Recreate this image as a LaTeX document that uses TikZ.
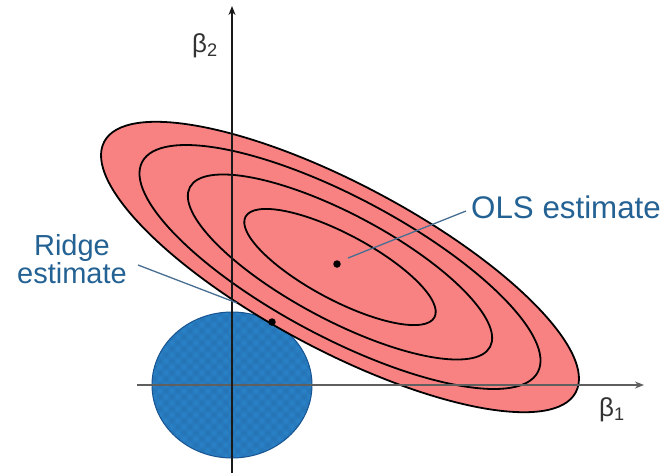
\documentclass[tikz,border=0pt]{standalone}
\usepackage{fontspec}
\setmainfont{Liberation Sans}
\usetikzlibrary{arrows.meta}
\definecolor{pinkfill}{RGB}{248,130,130}
\definecolor{ridgeblue}{RGB}{42,128,196}
\definecolor{ridgeedge}{RGB}{24,84,145}
\definecolor{labelblue}{RGB}{36,98,148}
\definecolor{leadercol}{RGB}{72,110,145}
\definecolor{axisgray}{RGB}{95,95,95}
\begin{document}
\begin{tikzpicture}[x=1pt,y=-1pt,
  contour/.style={draw=black,line width=1.8pt},
  estdot/.style={circle,fill=black,inner sep=0pt,minimum size=7.5pt},
  lbl/.style={text=labelblue,inner sep=0pt,font=\fontsize{29}{26}\selectfont},
  leader/.style={draw=leadercol,line width=1.3pt},
  axisv/.style={draw=black!90,line width=1.8pt,-{Stealth[length=9pt,width=7pt]}},
  axish/.style={draw=axisgray,line width=1.6pt,-{Stealth[length=9pt,width=7pt]}},
  betalbl/.style={text=black!80,inner sep=0pt,font=\fontsize{26}{26}\selectfont}]
\useasboundingbox (0,0) rectangle (665,475);
\fill[white] (0,0) rectangle (665,475);

% named points
\coordinate (C) at (340,267);
\coordinate (O) at (232,385);

% ridge constraint region (disc)
\fill[ridgeblue] (O) ellipse [x radius=80, y radius=73];
\begin{scope}
  \clip (O) ellipse [x radius=80, y radius=73];
  \foreach \i in {-180,-168,...,180} {
    \draw[ridgeedge,opacity=0.12,line width=4pt] (232+\i-90,295) -- ++(180,180);
    \draw[ridgeedge,opacity=0.12,line width=4pt] (232+\i+90,295) -- ++(-180,180);
  }
\end{scope}
\draw[ridgeedge,line width=1pt] (O) ellipse [x radius=80, y radius=73];

% OLS contours
\begin{scope}[shift={(C)},rotate=-28]
  \filldraw[contour,fill=pinkfill] (0,0) ellipse [x radius=267, y radius=83];
  \draw[contour] (0,0) ellipse [x radius=224, y radius=70];
  \draw[contour] (0,0) ellipse [x radius=170, y radius=53];
  \draw[contour] (0,0) ellipse [x radius=107, y radius=33];
\end{scope}

% axes
\coordinate (xs) at (137,385);
\coordinate (xe) at (644,385);
\coordinate (ys) at (232,473);
\coordinate (ye) at (232,6);
\draw[axish] (xs) -- (xe);
\draw[axisv] (ys) -- (ye);

% axis labels
\node[betalbl] (b2) at (205,46) {β\textsubscript{2}};
\node[betalbl] (b1) at (612,410) {β\textsubscript{1}};

% estimates
\node[estdot] (ols) at (337,264) {};
\node[estdot] (ridge) at (272,322) {};

% labels
\node[lbl,anchor=west,font=\fontsize{31.3}{28}\selectfont] (olslbl) at (471,207) {OLS estimate};
\node[lbl,align=center] (ridgelbl) at (72,259) {Ridge\\estimate};

% leader lines
\coordinate (olsA) at (348,258);
\coordinate (olsB) at (466,211);
\coordinate (rA) at (138,265);
\coordinate (rB) at (237,303);
\draw[leader] (olsA) -- (olsB);
\draw[leader] (rA) -- (rB);
\end{tikzpicture}
\end{document}
